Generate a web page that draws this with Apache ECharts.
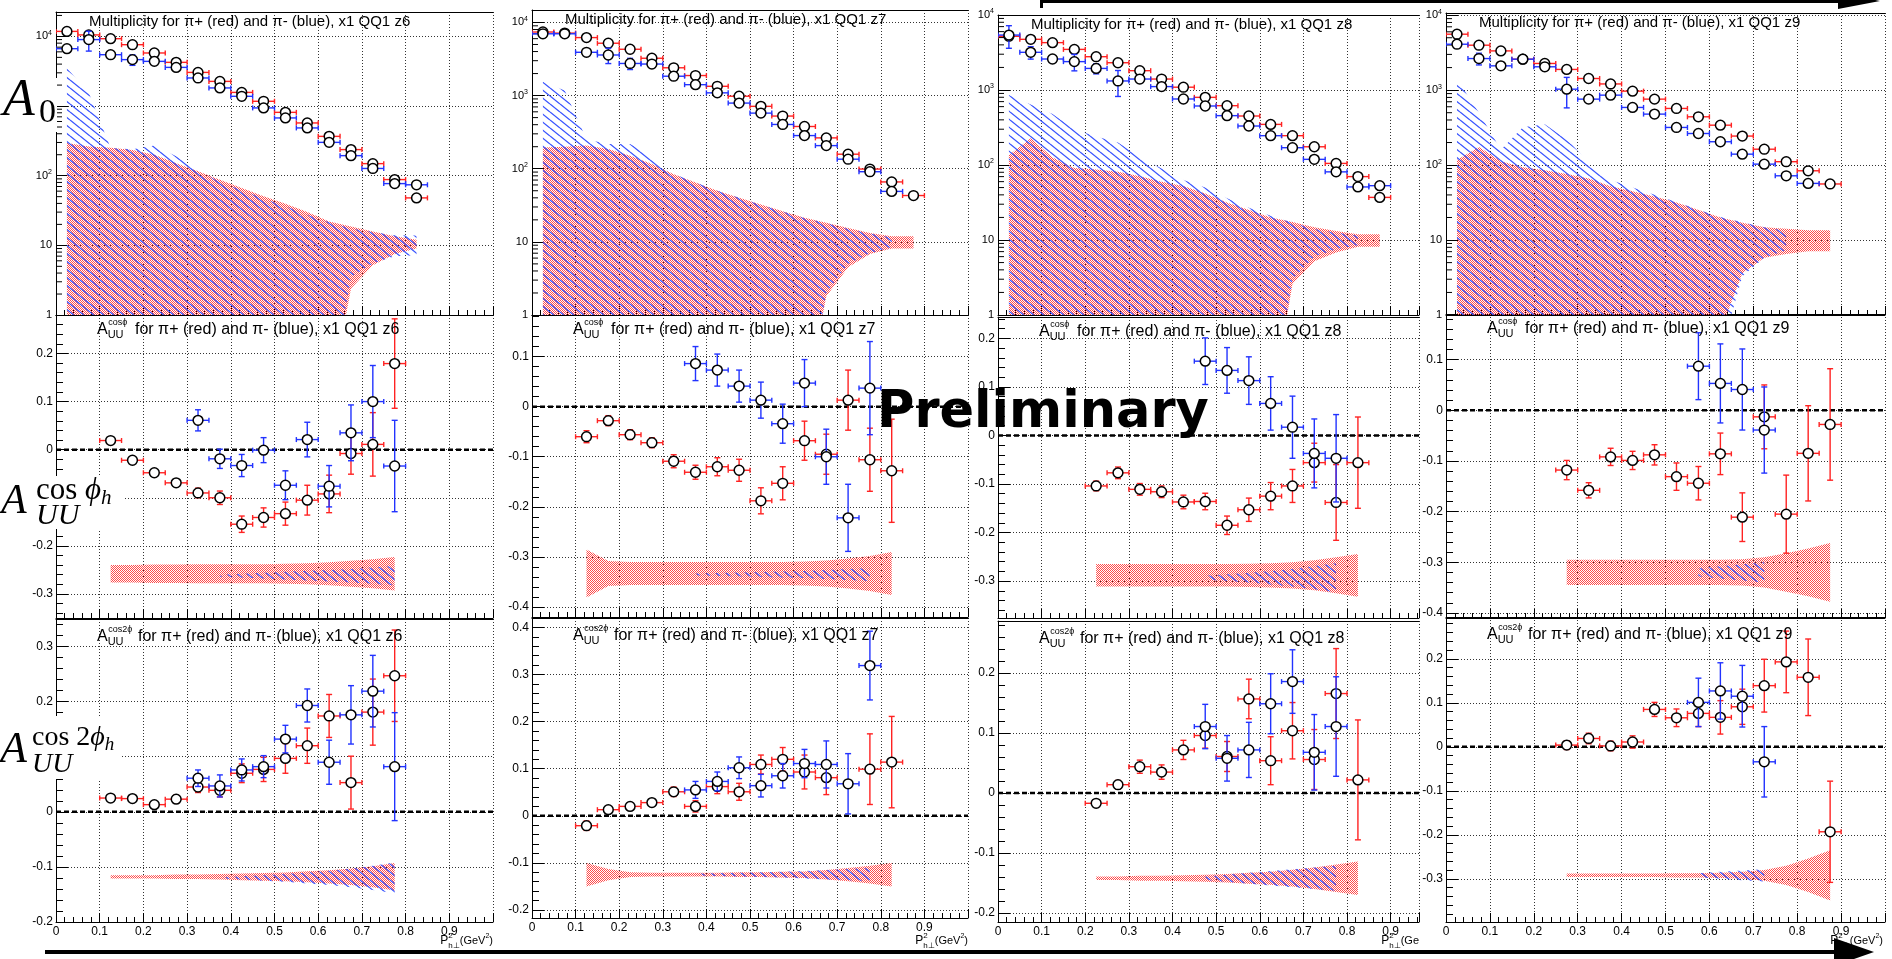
<!DOCTYPE html>
<html><head><meta charset="utf-8">
<script src="https://cdn.jsdelivr.net/npm/echarts@6/dist/echarts.min.js"></script>
<style>html,body{margin:0;padding:0;background:#fff}#c{width:1892px;height:959px}</style>
</head><body><div id="c"></div>
<script>
const _ = null;
// bin centres of P_hT^2 (GeV^2)
const pT2 = [0.025,0.075,0.125,0.175,0.225,0.275,0.325,0.375,0.425,0.475,0.525,0.575,0.625,0.675,0.725,0.775,0.825,0.875];
const binHalf = 0.025;
const zBins = ['z6','z7','z8','z9'];
// minor tick multipliers of the log axis
const logMinor = [2,3,4,5,6,7,8,9];

// ---- Row 1 : multiplicity A0 ----
const a0_pip_z6 = [11800,10500,9270,7600,5780,4240,3040,2260,1570,1170,812,572,367,237,149,88,48,_];
const a0_pim_z6 = [6660,9000,5460,4640,4380,3590,2530,1820,1380,940,675,485,301,194,127,77,74,_];
const a0_pimErr_z6 = [_,2850,_,800,_,_,_,_,_,_,_,_,_,_,_,_,_,_];
const a0_sysPip_z6 = [285,253,241,224,190,141,105,77,56,40,29,19.5,11.5,8.1,5.3,3,1.5,_];
const a0_sysPim_z6 = [3490,1540,240,230,260,180,110,70,52,36,26,17,11,7,5,3.5,3.3,_];

const a0_pip_z7 = [7400,7150,6210,5200,4300,3240,2400,1880,1340,980,713,525,378,264,158,99,66,43];
const a0_pim_z7 = [7000,7000,3910,3590,2750,2700,1840,1410,1090,790,576,403,284,207,135,91,49,_];
const a0_pimErr_z7 = [_,_,_,850,480,_,_,_,_,_,_,_,_,_,_,_,_,_];
const a0_sysPip_z7 = [185,190,197,176,141,106,74,55,40,30,22.5,16.3,11.3,8.2,5.5,3.2,1.9,1.9];
const a0_sysPim_z7 = [1540,1160,240,208,208,140,75,55,40,30,22,16,11,8,5,3,1.5,_];

const a0_pip_z8 = [5200,4740,4280,3480,2780,2310,1810,1400,1090,798,618,450,348,246,175,105,70,37];
const a0_pim_z8 = [5400,3180,2590,2390,1940,1320,1400,1110,759,612,455,331,246,170,119,81,51,53];
const a0_pimErr_z8 = [1800,600,_,590,300,500,_,_,_,_,_,_,_,_,_,_,_,_];
const a0_sysPip_z8 = [125,217,116,81,77,71,61,50,42.5,31.7,21.6,15.1,10,7.4,4.8,3.2,1.9,1.9];
const a0_sysPim_z8 = [850,630,470,290,230,190,120,80,53,40,26,17,11,7,4,2.5,1.5,_];

const a0_pip_z9 = [5580,3980,3340,2590,2270,1890,1430,1210,970,759,570,441,341,244,163,111,84,56];
const a0_pim_z9 = [4100,2640,2110,2590,2050,1030,759,858,588,479,318,264,205,140,103,72,57,_];
const a0_pimErr_z9 = [_,470,_,_,_,450,_,_,_,_,_,_,_,_,_,_,_,_];
const a0_sysPip_z9 = [107,164,102,83,75,66,56,42,34.4,27.7,21.3,14.8,9.7,6.7,4.5,3.8,3.2,3.2];
const a0_sysPim_z9 = [1390,490,150,310,340,210,100,53,40,30,22,15,10,7,4.5,3,_,_];
const a0_sysBase = [10.5,10,10,10.3];

// ---- Row 2 : A_UU^cos(phi) ----
const cos_pip_z6 = [_,_,0.019,-0.022,-0.048,-0.069,-0.090,-0.100,-0.155,-0.141,-0.133,-0.105,-0.092,-0.008,0.011,0.179,_,_];
const cos_pipErr_z6 = [_,_,0.005,0.005,0.005,0.006,0.010,0.014,0.017,0.020,0.024,0.031,0.039,0.043,0.066,0.093,_,_];
const cos_pim_z6 = [_,_,_,_,_,_,0.061,-0.019,-0.033,-0.001,-0.074,0.021,-0.076,0.035,0.100,-0.034,_,_];
const cos_pimErr_z6 = [_,_,_,_,_,_,0.022,0.020,0.023,0.026,0.030,0.036,0.043,0.058,0.075,0.095,_,_];
const cos_sysPip_z6 = [_,_,0.018,0.018,0.019,0.019,0.020,0.020,0.020,0.020,0.021,0.022,0.024,0.027,0.030,0.035,_,_];
const cos_sysPim_z6 = [_,_,_,_,_,_,_,0.002,0.004,0.006,0.008,0.010,0.012,0.014,0.017,0.020,_,_];

const cos_pip_z7 = [_,_,-0.060,-0.028,-0.056,-0.072,-0.109,-0.131,-0.120,-0.127,-0.188,-0.153,-0.068,-0.095,0.013,-0.106,-0.128,_];
const cos_pipErr_z7 = [_,_,0.012,0.010,0.010,0.010,0.013,0.014,0.018,0.022,0.026,0.033,0.039,0.040,0.060,0.063,0.103,_];
const cos_pim_z7 = [_,_,_,_,_,_,_,0.086,0.073,0.041,0.013,-0.034,0.047,-0.100,-0.222,0.037,_,_];
const cos_pimErr_z7 = [_,_,_,_,_,_,_,0.034,0.032,0.032,0.036,0.039,0.047,0.055,0.067,0.093,_,_];
const cos_sysPip_z7 = [_,_,0.048,0.025,0.023,0.023,0.023,0.023,0.023,0.023,0.023,0.023,0.024,0.026,0.030,0.035,0.043,_];
const cos_sysPim_z7 = [_,_,_,_,_,_,_,0.002,0.003,0.004,0.005,0.006,0.007,0.009,0.011,0.013,_,_];

const cos_pip_z8 = [_,_,_,_,-0.104,-0.077,-0.111,-0.116,-0.137,-0.136,-0.185,-0.153,-0.125,-0.104,-0.056,-0.138,-0.056,_];
const cos_pipErr_z8 = [_,_,_,_,0.010,0.012,0.012,0.012,0.014,0.017,0.019,0.024,0.028,0.034,0.040,0.078,0.094,_];
const cos_pim_z8 = [_,_,_,_,_,_,_,_,_,0.153,0.134,0.113,0.066,0.017,-0.037,-0.047,_,_];
const cos_pimErr_z8 = [_,_,_,_,_,_,_,_,_,0.048,0.047,0.049,0.055,0.064,0.071,0.090,_,_];
const cos_sysPip_z8 = [_,_,_,_,0.023,0.023,0.023,0.023,0.023,0.023,0.023,0.024,0.025,0.027,0.031,0.037,0.044,_];
const cos_sysPim_z8 = [_,_,_,_,_,_,_,_,_,0.004,0.007,0.010,0.014,0.018,0.024,0.030,_,_];

const cos_pip_z9 = [_,_,_,_,_,-0.118,-0.158,-0.092,-0.099,-0.088,-0.131,-0.144,-0.086,-0.211,-0.013,-0.205,-0.085,-0.028];
const cos_pipErr_z9 = [_,_,_,_,_,0.019,0.015,0.017,0.018,0.020,0.027,0.033,0.041,0.048,0.063,0.077,0.094,0.110];
const cos_pim_z9 = [_,_,_,_,_,_,_,_,_,_,_,0.087,0.053,0.041,-0.039,_,_,_];
const cos_pimErr_z9 = [_,_,_,_,_,_,_,_,_,_,_,0.066,0.078,0.080,0.085,_,_,_];
const cos_sysPip_z9 = [_,_,_,_,_,0.025,0.025,0.025,0.025,0.025,0.025,0.025,0.025,0.026,0.030,0.038,0.047,0.058];
const cos_sysPim_z9 = [_,_,_,_,_,_,_,_,_,_,_,0.008,0.012,0.016,0.020,_,_,_];
const cos_sysBasePip = [-0.258,-0.333,-0.288,-0.320];
const cos_sysBasePim = [-0.262,-0.335,-0.293,-0.320];

// ---- Row 3 : A_UU^cos(2phi) ----
const cos2_pip_z6 = [_,_,0.025,0.024,0.013,0.023,0.045,0.039,0.070,0.077,0.097,0.120,0.174,0.053,0.181,0.247,_,_];
const cos2_pipErr_z6 = [_,_,0.005,0.005,0.005,0.007,0.010,0.012,0.017,0.022,0.027,0.032,0.039,0.048,0.060,0.083,_,_];
const cos2_pim_z6 = [_,_,_,_,_,_,0.061,0.047,0.076,0.082,0.132,0.193,0.090,0.176,0.219,0.082,_,_];
const cos2_pimErr_z6 = [_,_,_,_,_,_,0.015,0.020,0.020,0.020,0.025,0.030,0.040,0.053,0.065,0.098,_,_];
const cos2_sysPip_z6 = [_,_,0.003,0.003,0.003,0.004,0.004,0.005,0.006,0.007,0.008,0.010,0.012,0.015,0.019,0.025,_,_];
const cos2_sysPim_z6 = [_,_,_,_,_,_,_,0.001,0.003,0.005,0.007,0.010,0.013,0.017,0.022,0.028,_,_];

const cos2_pip_z7 = [_,_,-0.021,0.013,0.020,0.028,0.051,0.020,0.062,0.051,0.109,0.120,0.093,0.081,_,0.099,0.114,_];
const cos2_pipErr_z7 = [_,_,0.010,0.006,0.006,0.007,0.010,0.012,0.015,0.018,0.020,0.025,0.036,0.036,_,0.075,0.097,_];
const cos2_pim_z7 = [_,_,_,_,_,_,_,0.055,0.073,0.102,0.064,0.085,0.111,0.109,0.068,0.319,_,_];
const cos2_pimErr_z7 = [_,_,_,_,_,_,_,0.018,0.020,0.023,0.024,0.026,0.030,0.050,0.064,0.073,_,_];
const cos2_sysPip_z7 = [_,_,0.025,0.012,0.005,0.004,0.004,0.004,0.004,0.005,0.005,0.006,0.007,0.010,0.014,0.019,0.025,_];
const cos2_sysPim_z7 = [_,_,_,_,_,_,_,0.002,0.003,0.004,0.005,0.006,0.008,0.010,0.012,0.014,_,_];

const cos2_pip_z8 = [_,_,_,_,-0.017,0.014,0.044,0.035,0.072,0.096,0.061,0.157,0.054,0.104,0.056,0.166,0.022,_];
const cos2_pipErr_z8 = [_,_,_,_,0.005,0.007,0.011,0.012,0.016,0.021,0.025,0.033,0.040,0.047,0.050,0.075,0.100,_];
const cos2_pim_z8 = [_,_,_,_,_,_,_,_,_,0.111,0.058,0.072,0.149,0.186,0.068,0.111,_,_];
const cos2_pimErr_z8 = [_,_,_,_,_,_,_,_,_,0.037,0.038,0.046,0.050,0.053,0.063,0.083,_,_];
const cos2_sysPip_z8 = [_,_,_,_,0.003,0.003,0.004,0.004,0.005,0.006,0.007,0.009,0.011,0.014,0.018,0.023,0.028,_];
const cos2_sysPim_z8 = [_,_,_,_,_,_,_,_,_,0.003,0.006,0.009,0.012,0.015,0.018,0.021,_,_];

const cos2_pip_z9 = [_,_,_,_,_,0.004,0.019,0.002,0.011,0.085,0.066,0.076,0.067,0.091,0.139,0.193,0.158,-0.193];
const cos2_pipErr_z9 = [_,_,_,_,_,0.010,0.012,0.011,0.014,0.016,0.020,0.030,0.038,0.040,0.060,0.070,0.087,0.115];
const cos2_pim_z9 = [_,_,_,_,_,_,_,_,_,_,_,0.101,0.127,0.115,-0.034,_,_,_];
const cos2_pimErr_z9 = [_,_,_,_,_,_,_,_,_,_,_,0.055,0.064,0.070,0.080,_,_,_];
const cos2_sysPip_z9 = [_,_,_,_,_,0.004,0.004,0.004,0.004,0.004,0.005,0.005,0.006,0.008,0.012,0.022,0.038,0.057];
const cos2_sysPim_z9 = [_,_,_,_,_,_,_,_,_,_,_,0.005,0.008,0.011,0.014,_,_,_];
const cos2_sysBasePip = [-0.118,-0.125,-0.142,-0.292];
const cos2_sysBasePim = [-0.120,-0.125,-0.142,-0.292];

// axis ranges
const yMin = [[1,1,1,1],[-0.35,-0.42,-0.376,-0.41],[-0.2,-0.217,-0.215,-0.398]];
const yMax = [[22400,14800,10000,10700],[0.28,0.183,0.244,0.19],[0.35,0.42,0.287,0.295]];
const xMaxCol = [1,1,0.965,1];

// ---- layout ----
const colLeft = [56,532,998,1446];
const colWidth = [437,436,421,439];
const rowTop = [[12,10,15,13],[315,315,317,314],[619,618,621,617]];
const rowBottom = [[315,315,315,315],[618,617,618,618],[922,918,922,922]];

const RED = '#ff2222', BLUE = '#2233ff';
const SANS = '"Liberation Sans", Arial, sans-serif';
const SERIF = '"Liberation Serif", "DejaVu Serif", serif';

function redPattern(){const c=document.createElement('canvas');c.width=2;c.height=2;const g=c.getContext('2d');g.fillStyle='#ff4a4a';g.fillRect(0,0,1,1);g.fillRect(1,1,1,1);return {image:c,repeat:'repeat'};}
function bluePattern(){const c=document.createElement('canvas');c.width=10;c.height=8;const g=c.getContext('2d');g.strokeStyle='#3a55ff';g.lineWidth=1.3;g.beginPath();g.moveTo(0,0);g.lineTo(10,8);g.moveTo(0,-8);g.lineTo(10,0);g.moveTo(0,8);g.lineTo(10,16);g.stroke();return {image:c,repeat:'repeat'};}
const RP = redPattern(), BP = bluePattern();

const panels = [
 [
  {pip:a0_pip_z6,pipErr:_,pim:a0_pim_z6,pimErr:a0_pimErr_z6,sysPip:a0_sysPip_z6,sysPim:a0_sysPim_z6,bp:a0_sysBase[0],bm:a0_sysBase[0]},
  {pip:a0_pip_z7,pipErr:_,pim:a0_pim_z7,pimErr:a0_pimErr_z7,sysPip:a0_sysPip_z7,sysPim:a0_sysPim_z7,bp:a0_sysBase[1],bm:a0_sysBase[1]},
  {pip:a0_pip_z8,pipErr:_,pim:a0_pim_z8,pimErr:a0_pimErr_z8,sysPip:a0_sysPip_z8,sysPim:a0_sysPim_z8,bp:a0_sysBase[2],bm:a0_sysBase[2]},
  {pip:a0_pip_z9,pipErr:_,pim:a0_pim_z9,pimErr:a0_pimErr_z9,sysPip:a0_sysPip_z9,sysPim:a0_sysPim_z9,bp:a0_sysBase[3],bm:a0_sysBase[3]}
 ],
 [
  {pip:cos_pip_z6,pipErr:cos_pipErr_z6,pim:cos_pim_z6,pimErr:cos_pimErr_z6,sysPip:cos_sysPip_z6,sysPim:cos_sysPim_z6,bp:cos_sysBasePip[0],bm:cos_sysBasePim[0]},
  {pip:cos_pip_z7,pipErr:cos_pipErr_z7,pim:cos_pim_z7,pimErr:cos_pimErr_z7,sysPip:cos_sysPip_z7,sysPim:cos_sysPim_z7,bp:cos_sysBasePip[1],bm:cos_sysBasePim[1]},
  {pip:cos_pip_z8,pipErr:cos_pipErr_z8,pim:cos_pim_z8,pimErr:cos_pimErr_z8,sysPip:cos_sysPip_z8,sysPim:cos_sysPim_z8,bp:cos_sysBasePip[2],bm:cos_sysBasePim[2]},
  {pip:cos_pip_z9,pipErr:cos_pipErr_z9,pim:cos_pim_z9,pimErr:cos_pimErr_z9,sysPip:cos_sysPip_z9,sysPim:cos_sysPim_z9,bp:cos_sysBasePip[3],bm:cos_sysBasePim[3]}
 ],
 [
  {pip:cos2_pip_z6,pipErr:cos2_pipErr_z6,pim:cos2_pim_z6,pimErr:cos2_pimErr_z6,sysPip:cos2_sysPip_z6,sysPim:cos2_sysPim_z6,bp:cos2_sysBasePip[0],bm:cos2_sysBasePim[0]},
  {pip:cos2_pip_z7,pipErr:cos2_pipErr_z7,pim:cos2_pim_z7,pimErr:cos2_pimErr_z7,sysPip:cos2_sysPip_z7,sysPim:cos2_sysPim_z7,bp:cos2_sysBasePip[1],bm:cos2_sysBasePim[1]},
  {pip:cos2_pip_z8,pipErr:cos2_pipErr_z8,pim:cos2_pim_z8,pimErr:cos2_pimErr_z8,sysPip:cos2_sysPip_z8,sysPim:cos2_sysPim_z8,bp:cos2_sysBasePip[2],bm:cos2_sysBasePim[2]},
  {pip:cos2_pip_z9,pipErr:cos2_pipErr_z9,pim:cos2_pim_z9,pimErr:cos2_pimErr_z9,sysPip:cos2_sysPip_z9,sysPim:cos2_sysPim_z9,bp:cos2_sysBasePip[3],bm:cos2_sysBasePim[3]}
 ]
];

function bandRenderer(base, hw, fill, isLog){
  return function(params, api){
    const up=[], lo=[];
    for(let i=0;i<pT2.length;i++){
      if(hw[i]==null) continue;
      let u=base+hw[i], l=base-hw[i];
      if(isLog && l<0.05) l=0.05;
      up.push(api.coord([pT2[i],u])); lo.push(api.coord([pT2[i],l]));
    }
    return {type:'polygon', shape:{points:up.concat(lo.reverse())}, style:{fill:fill, stroke:null}};
  };
}
function pointRenderer(color, isLog){
  return function(params, api){
    const x=api.value(0), y=api.value(1), e=api.value(2);
    const p=api.coord([x,y]);
    const xl=api.coord([x-binHalf,y])[0], xr=api.coord([x+binHalf,y])[0];
    const st={stroke:color, lineWidth:1.4, fill:null};
    const kids=[
      {type:'line',shape:{x1:xl,y1:p[1],x2:xr,y2:p[1]},style:st},
      {type:'line',shape:{x1:xl,y1:p[1]-2.5,x2:xl,y2:p[1]+2.5},style:st},
      {type:'line',shape:{x1:xr,y1:p[1]-2.5,x2:xr,y2:p[1]+2.5},style:st}
    ];
    if(e>0){
      const yt=api.coord([x,y+e])[1];
      const yb=(isLog && y-e<=0)? p[1]+400 : api.coord([x,y-e])[1];
      kids.push({type:'line',shape:{x1:p[0],y1:yt,x2:p[0],y2:yb},style:st});
      kids.push({type:'line',shape:{x1:p[0]-3,y1:yt,x2:p[0]+3,y2:yt},style:st});
      kids.push({type:'line',shape:{x1:p[0]-3,y1:yb,x2:p[0]+3,y2:yb},style:st});
    }
    kids.push({type:'circle',shape:{cx:p[0],cy:p[1],r:4.9},style:{fill:'#fff',stroke:'#000',lineWidth:1.5}});
    return {type:'group',children:kids};
  };
}
// log-axis minor ticks (2..9 x 10^n) drawn through the axis scale
function logMinorRenderer(ymax){
  return function(params, api){
    const kids=[];
    for(let n=0;n<5;n++){
      for(const m of logMinor){
        const v=m*Math.pow(10,n); if(v>ymax) continue;
        const p=api.coord([0,v]);
        kids.push({type:'line',shape:{x1:p[0],y1:p[1],x2:p[0]+6,y2:p[1]},style:{stroke:'#000',lineWidth:1}});
      }
    }
    return {type:'group',children:kids};
  };
}
function toPoints(vals, errs){
  const out=[];
  for(let i=0;i<pT2.length;i++){ if(vals[i]==null) continue; out.push([pT2[i], vals[i], errs && errs[i]!=null ? errs[i] : 0]); }
  return out;
}
function xFmt(v){ const t=Math.round(v*10); if(Math.abs(v*10-t)>1e-6 || t>=10) return ''; return String(t/10); }
function yFmt(v){ const t=Math.round(v*10); if(Math.abs(v*10-t)>1e-6) return ''; return String(t/10); }
function logFmt(v){ const l=Math.log10(v), e=Math.round(l); if(Math.abs(l-e)>1e-3) return ''; if(e===0) return '{b|1}'; if(e===1) return '{b|10}'; return '{b|10}{s|'+e+'}'; }

const grids=[], xAxes=[], topAxes=[], yAxes=[], series=[];
let k=0;
for(let r=0;r<3;r++){
  for(let c=0;c<4;c++){
    const isLog = r===0;
    grids.push({left:colLeft[c], top:rowTop[r][c], width:colWidth[c], height:rowBottom[r][c]-rowTop[r][c]});
    xAxes.push({type:'value', gridIndex:k, min:0, max:xMaxCol[c], interval:0.1,
      axisLine:{show:true,onZero:false,lineStyle:{color:'#000',width:1}},
      axisTick:{show:true,inside:true,length:9,lineStyle:{color:'#000'}},
      minorTick:{show:true,splitNumber:5,length:5,lineStyle:{color:'#000'}},
      splitLine:{show:true,lineStyle:{color:'#333',type:[1,2],width:1}},
      axisLabel:{show:r===2,color:'#000',fontSize:12,fontFamily:SANS,margin:4,formatter:xFmt,showMaxLabel:false}
    });
    topAxes.push({type:'value', gridIndex:k, position:'top', min:0, max:xMaxCol[c],
      axisLine:{show:true,onZero:false,lineStyle:{color:'#000',width:1}},
      axisTick:{show:false}, axisLabel:{show:false}, splitLine:{show:false}});
    const ya={gridIndex:k, min:yMin[r][c], max:yMax[r][c],
      axisLine:{show:true,onZero:false,lineStyle:{color:'#000',width:1}},
      axisTick:{show:true,inside:true,length:12,lineStyle:{color:'#000'}},
      splitLine:{show:true,lineStyle:{color:'#333',type:[1,2],width:1}}
    };
    if(isLog){
      ya.type='log'; ya.logBase=10;
      ya.minorTick={show:false};
      ya.axisLabel={color:'#000',margin:4,formatter:logFmt,
        rich:{b:{fontSize:11,fontFamily:SANS,color:'#000'},s:{fontSize:7,fontFamily:SANS,color:'#000',padding:[0,0,7,0]}}};
    } else {
      ya.type='value';
      ya.minorTick={show:true,splitNumber:5,length:7,lineStyle:{color:'#000'}};
      ya.axisLabel={color:'#000',fontSize:12,fontFamily:SANS,margin:3,formatter:yFmt};
    }
    yAxes.push(ya);
    const P = panels[r][c];
    series.push({type:'custom', name:'sys pi+', xAxisIndex:k, yAxisIndex:k, clip:true, silent:true, z:1,
      data:[[0.5,P.bp]], encode:{x:0,y:1}, renderItem:bandRenderer(P.bp,P.sysPip,RP,isLog)});
    series.push({type:'custom', name:'sys pi-', xAxisIndex:k, yAxisIndex:k, clip:true, silent:true, z:1,
      data:[[0.5,P.bm]], encode:{x:0,y:1}, renderItem:bandRenderer(P.bm,P.sysPim,BP,isLog)});
    if(isLog){
      series.push({type:'custom', xAxisIndex:k, yAxisIndex:k, clip:false, silent:true, z:2,
        data:[[0,1]], encode:{x:0,y:1}, renderItem:logMinorRenderer(yMax[r][c])});
    } else {
      series.push({type:'line', xAxisIndex:k, yAxisIndex:k, data:[[0,0],[1,0]], symbol:'none', silent:true, z:2,
        lineStyle:{color:'#000',width:2.5,type:[5,3]}});
    }
    series.push({type:'custom', name:'pi+', xAxisIndex:k, yAxisIndex:k, clip:true, silent:true, z:3,
      dimensions:['x','y','err'], encode:{x:0,y:1}, data:toPoints(P.pip,P.pipErr), renderItem:pointRenderer(RED,isLog)});
    series.push({type:'custom', name:'pi-', xAxisIndex:k, yAxisIndex:k, clip:true, silent:true, z:4,
      dimensions:['x','y','err'], encode:{x:0,y:1}, data:toPoints(P.pim,P.pimErr), renderItem:pointRenderer(BLUE,isLog)});
    k++;
  }
}

// ---- texts ----
const mctx=document.createElement('canvas').getContext('2d');
function tw(t,f){mctx.font=f;return mctx.measureText(t).width;}
const G=[];
function txt(x,y,t,font,opt){ G.push(Object.assign({type:'text',x:x,y:y,z:100,silent:true,style:{text:t,font:font,fill:'#000',align:'left',verticalAlign:'middle'}},opt||{})); }

for(let c=0;c<4;c++){
  txt(colLeft[c]+33, rowTop[0][c]+10, 'Multiplicity for π+ (red) and π- (blue), x1 QQ1 '+zBins[c], '15px '+SANS);
  for(let r=1;r<3;r++){
    const x0=colLeft[c]+41, ym=rowTop[r][c]+(r===1?15:18);
    const fA='16px '+SANS; const wA=tw('A',fA);
    txt(x0,ym,'A',fA);
    txt(x0+wA+0.5,ym-7,r===1?'cosϕ':'cos2ϕ','9px '+SANS);
    txt(x0+wA,ym+5,'UU','11px '+SANS);
    txt(colLeft[c]+(r===1?79:82),ym,'for π+ (red) and π- (blue), x1 QQ1 '+zBins[c],'16px '+SANS);
  }
  const R=colLeft[c]+colWidth[c];
  const fP='12px '+SANS, fs='8px '+SANS, fm='11px '+SANS, fs2='7px '+SANS;
  const tail = c===2 ? ['(Ge','',''] : ['(GeV','2',')'];
  const wP=tw('P',fP), wS=Math.max(tw('2',fs),tw('h⊥',fs)), w1=tw(tail[0],fm), w2=tw(tail[1],fs2), w3=tw(tail[2],fm);
  let x=R-(wP+wS+w1+w2+w3)-(c===3?2:0);
  const yb=941;
  txt(x,yb,'P',fP); x+=wP;
  txt(x,yb-5,'2',fs); txt(x,yb+5,'h⊥',fs); x+=wS;
  txt(x,yb,tail[0],fm); x+=w1;
  if(tail[1]){ txt(x,yb-5,tail[1],fs2); x+=w2; txt(x,yb,tail[2],fm); }
}

// big axis labels with white backing
G.push({type:'rect',z:90,silent:true,shape:{x:0,y:78,width:57,height:54},style:{fill:'#fff'}});
txt(3,101,'A','italic 52px '+SERIF);
txt(39,113,'0','34px '+SERIF);

G.push({type:'rect',z:90,silent:true,shape:{x:0,y:476,width:123,height:53},style:{fill:'#fff'}});
txt(1,502,'A','italic 42px '+SERIF);
(function(){ let x=36; const y=491; const f1='31px '+SERIF, f2='italic 31px '+SERIF;
  txt(x,y,'cos',f1); x+=tw('cos ',f1); txt(x,y,'ϕ',f2); x+=tw('ϕ',f2); txt(x,y+7,'h','italic 21px '+SERIF); })();
txt(36,516,'UU','italic 30px '+SERIF);

G.push({type:'rect',z:90,silent:true,shape:{x:0,y:716,width:122,height:63},style:{fill:'#fff'}});
txt(0,750,'A','italic 44px '+SERIF);
(function(){ let x=32; const y=738; const f1='28px '+SERIF, f2='italic 28px '+SERIF;
  txt(x,y,'cos 2',f1); x+=tw('cos 2',f1); txt(x,y,'ϕ',f2); x+=tw('ϕ',f2); txt(x,y+7,'h','italic 19px '+SERIF); })();
txt(32,765,'UU','italic 28px '+SERIF);

// Preliminary
txt(877,414,'Preliminary','bold 51px "DejaVu Sans", sans-serif');

// arrows
G.push({type:'rect',z:100,silent:true,shape:{x:45,y:950,width:1795,height:4},style:{fill:'#000'}});
G.push({type:'polygon',z:100,silent:true,shape:{points:[[1834,938],[1874,952],[1834,966]]},style:{fill:'#000'}});
G.push({type:'rect',z:100,silent:true,shape:{x:1041,y:0,width:800,height:3},style:{fill:'#000'}});
G.push({type:'rect',z:100,silent:true,shape:{x:1040,y:0,width:3,height:8},style:{fill:'#000'}});
G.push({type:'polygon',z:100,silent:true,shape:{points:[[1838,-8],[1880,1],[1838,9]]},style:{fill:'#000'}});

const chart=echarts.init(document.getElementById('c'),null,{renderer:'canvas',width:1892,height:959});
chart.setOption({
  animation:false, backgroundColor:'#fff',
  grid:grids, xAxis:xAxes.concat(topAxes), yAxis:yAxes, series:series, graphic:{elements:G}
});
</script></body></html>
